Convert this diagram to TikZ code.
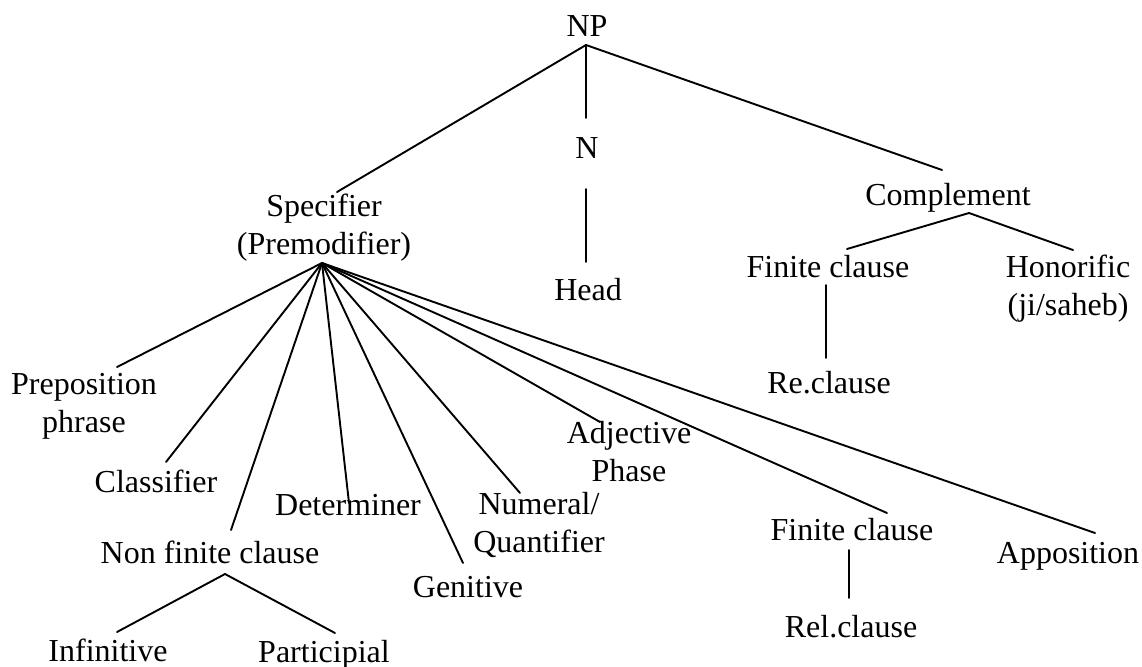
\documentclass[tikz,border=0pt]{standalone}
\usepackage{fontspec}
\setmainfont{Liberation Serif}
\begin{document}
\begin{tikzpicture}[x=1pt,y=-1pt,
  lbl/.style={anchor=base,inner sep=0pt,align=center,
    font=\fontsize{32}{37.5}\selectfont},
  edge/.style={line width=1.9pt,line cap=round}]
\useasboundingbox (0,0) rectangle (1142,666);

% labels (two-line labels are placed by the baseline of their last line)
\node[lbl] (np)   at (587,37)  {NP};
\node[lbl] (n)    at (587,158) {N};
\node[lbl] (head) at (588,300) {Head};
\node[lbl] (spec) at (324,254) {Specifier\\(Premodifier)};
\node[lbl] (comp) at (948,205) {Complement};
\node[lbl] (fca)  at (828,277) {Finite clause};
\node[lbl] (hon)  at (1068,315) {Honorific\\(ji/saheb)};
\node[lbl] (re)   at (829,393) {Re.clause};
\node[lbl] (pp)   at (84,432)  {Preposition\\phrase};
\node[lbl] (cl)   at (156,492) {Classifier};
\node[lbl] (det)  at (348,515) {Determiner};
\node[lbl] (nf)   at (210,563) {Non finite clause};
\node[lbl] (inf)  at (108,661) {Infinitive};
\node[lbl] (par)  at (324,662) {Participial};
\node[lbl] (gen)  at (468,597) {Genitive};
\node[lbl] (num)  at (539,552) {Numeral/\\Quantifier};
\node[lbl] (adj)  at (629,481) {Adjective\\Phase};
\node[lbl] (fcb)  at (852,540) {Finite clause};
\node[lbl] (rel)  at (851,637) {Rel.clause};
\node[lbl] (app)  at (1068,563) {Apposition};

% attachment points
\coordinate (np-f)   at (586,45);
\coordinate (spec-t) at (337,192);
\coordinate (spec-f) at (322,263);
\coordinate (n-t)    at (586,118);
\coordinate (n-f)    at (586,189);
\coordinate (head-t) at (586,262);
\coordinate (comp-t) at (942,170);
\coordinate (comp-f) at (969,213);
\coordinate (fca-t)  at (847,249);
\coordinate (fca-f)  at (826,285);
\coordinate (re-t)   at (826,358);
\coordinate (hon-t)  at (1073,250);
\coordinate (pp-t)   at (117,367);
\coordinate (cl-t)   at (166,462);
\coordinate (nf-t)   at (231,530);
\coordinate (nf-f)   at (225,574);
\coordinate (inf-t)  at (117,632);
\coordinate (par-t)  at (335,633);
\coordinate (det-t)  at (349,503);
\coordinate (gen-t)  at (463,563);
\coordinate (num-t)  at (520,493);
\coordinate (adj-t)  at (600,422);
\coordinate (fcb-t)  at (887,513);
\coordinate (fcb-f)  at (849,550);
\coordinate (rel-t)  at (849,598);
\coordinate (app-t)  at (1095,533);

% branches
\draw[edge] (np-f) -- (spec-t);
\draw[edge] (np-f) -- (n-t);
\draw[edge] (np-f) -- (comp-t);
\draw[edge] (n-f) -- (head-t);
\draw[edge] (comp-f) -- (fca-t);
\draw[edge] (comp-f) -- (hon-t);
\draw[edge] (fca-f) -- (re-t);
\foreach \c in {pp,cl,nf,det,gen,num,adj,fcb,app}
  \draw[edge] (spec-f) -- (\c-t);
\draw[edge] (nf-f) -- (inf-t);
\draw[edge] (nf-f) -- (par-t);
\draw[edge] (fcb-f) -- (rel-t);
\end{tikzpicture}
\end{document}
